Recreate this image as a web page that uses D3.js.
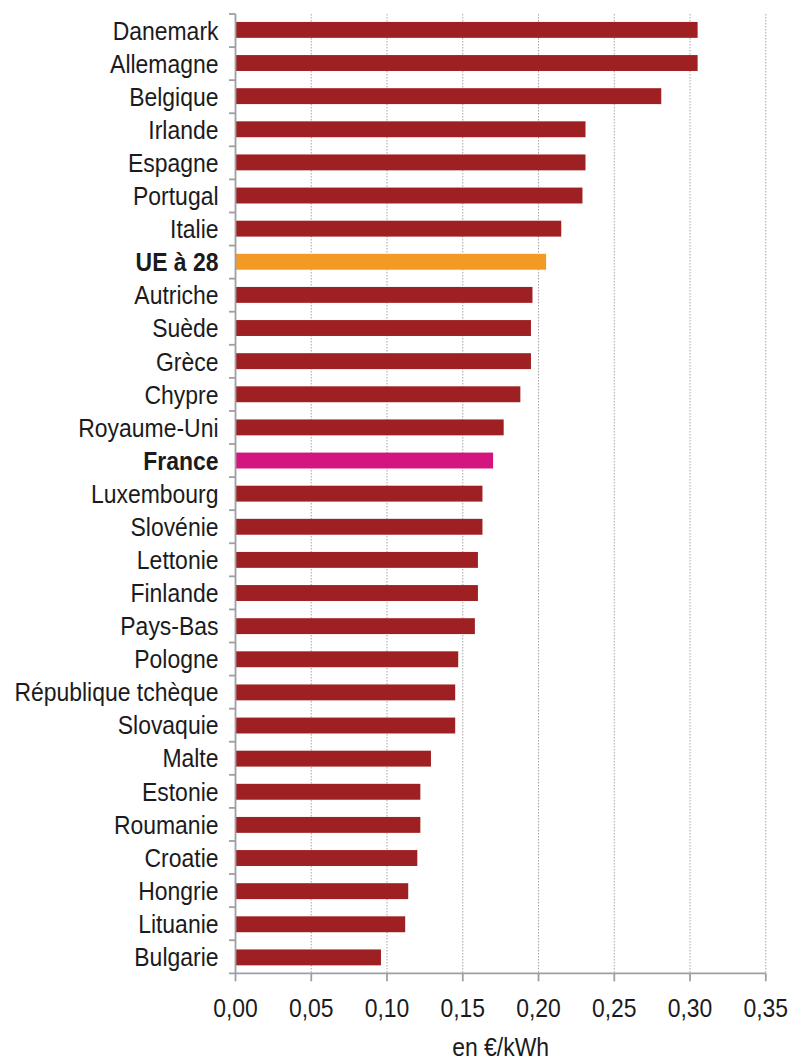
<!DOCTYPE html>
<html>
<head>
<meta charset="utf-8">
<script src="https://cdn.jsdelivr.net/npm/d3@7"></script>
<style>
  html, body { margin: 0; padding: 0; background: #ffffff; }
  svg { display: block; }
  text { font-family: "Liberation Sans", Arial, sans-serif; fill: #1b1b1d; }
</style>
</head>
<body>
<svg id="chart" width="790" height="1063"></svg>
<script>
// ---- data ----
const countries = [
  "Danemark", "Allemagne", "Belgique", "Irlande", "Espagne", "Portugal", "Italie",
  "UE à 28", "Autriche", "Suède", "Grèce", "Chypre", "Royaume-Uni", "France",
  "Luxembourg", "Slovénie", "Lettonie", "Finlande", "Pays-Bas", "Pologne",
  "République tchèque", "Slovaquie", "Malte", "Estonie", "Roumanie", "Croatie",
  "Hongrie", "Lituanie", "Bulgarie"
];
const prices = [
  0.305, 0.305, 0.281, 0.231, 0.231, 0.229, 0.215,
  0.205, 0.196, 0.195, 0.195, 0.188, 0.177, 0.170,
  0.163, 0.163, 0.160, 0.160, 0.158, 0.147,
  0.145, 0.145, 0.129, 0.122, 0.122, 0.120,
  0.114, 0.112, 0.096
];
const highlightEU = "UE à 28";
const highlightFR = "France";
const xTicks = [0, 0.05, 0.10, 0.15, 0.20, 0.25, 0.30, 0.35];
const xDomain = [0, 0.35];
const unitLabel = "en €/kWh";

// ---- layout ----
const plotLeft = 235.5, plotRight = 765.8, plotTop = 14, plotBottom = 973.3;
const fontSize = 25.5, squeeze = 0.9;
const cRed = "#9e2022", cOrange = "#f39a24", cMagenta = "#d5157f";
const axisColor = "#9d9fa3";

const svg = d3.select("#chart");
const x = d3.scaleLinear().domain(xDomain).range([plotLeft, plotRight]);
const yBand = d3.scaleBand().domain(countries).range([plotTop, plotBottom]).padding(0);
const yBar = d3.scaleBand().domain(countries).range([plotTop, plotBottom])
  .paddingInner(0.52).paddingOuter(0.24);

const fr = d3.formatLocale({decimal: ",", thousands: " ", grouping: [3], currency: ["", " €"]});
const fmt = fr.format(".2f");

// gridlines (dotted)
svg.append("g").selectAll("line").data(xTicks.filter(d => d > 0)).join("line")
  .attr("x1", d => x(d)).attr("x2", d => x(d))
  .attr("y1", plotTop).attr("y2", plotBottom)
  .attr("stroke", "#a6a6a6").attr("stroke-width", 1)
  .attr("stroke-dasharray", "1.5,1.5");

// bars
svg.append("g").selectAll("rect").data(countries).join("rect")
  .attr("x", x(0))
  .attr("y", d => yBar(d))
  .attr("width", (d, i) => x(prices[i]) - x(0))
  .attr("height", yBar.bandwidth())
  .attr("fill", d => d === highlightEU ? cOrange : (d === highlightFR ? cMagenta : cRed));

// y axis line + ticks at band boundaries
const yAxisG = svg.append("g");
yAxisG.append("line")
  .attr("x1", plotLeft).attr("x2", plotLeft)
  .attr("y1", plotTop).attr("y2", plotBottom)
  .attr("stroke", axisColor).attr("stroke-width", 1.8);
yAxisG.selectAll("line.tk").data(countries).join("line").attr("class", "tk")
  .attr("x1", plotLeft - 6.5).attr("x2", plotLeft)
  .attr("y1", d => yBand(d)).attr("y2", d => yBand(d))
  .attr("stroke", axisColor).attr("stroke-width", 1.8);

// category labels
yAxisG.selectAll("text").data(countries).join("text")
  .attr("transform", d => `translate(${plotLeft - 17},${yBand(d) + yBand.bandwidth() / 2}) scale(${squeeze},1)`)
  .attr("text-anchor", "end")
  .attr("dy", "0.36em")
  .attr("font-size", fontSize)
  .attr("font-weight", d => (d === highlightEU || d === highlightFR) ? "bold" : "normal")
  .text(d => d);

// x axis
const xAxisG = svg.append("g");
xAxisG.append("line")
  .attr("x1", plotLeft - 6.5).attr("x2", plotRight)
  .attr("y1", plotBottom).attr("y2", plotBottom)
  .attr("stroke", axisColor).attr("stroke-width", 1.8);
xAxisG.selectAll("line.tk").data(xTicks).join("line").attr("class", "tk")
  .attr("x1", d => x(d)).attr("x2", d => x(d))
  .attr("y1", plotBottom).attr("y2", plotBottom + 8)
  .attr("stroke", axisColor).attr("stroke-width", 1.8);
xAxisG.selectAll("text").data(xTicks).join("text")
  .attr("transform", d => `translate(${x(d)},${plotBottom + 43.3}) scale(${squeeze},1)`)
  .attr("text-anchor", "middle")
  .attr("font-size", fontSize)
  .text(d => fmt(d));

// unit label
svg.append("text")
  .attr("transform", `translate(${(plotLeft + plotRight) / 2},${plotBottom + 82.5}) scale(${squeeze},1)`)
  .attr("text-anchor", "middle")
  .attr("font-size", fontSize)
  .text(unitLabel);
</script>
</body>
</html>
